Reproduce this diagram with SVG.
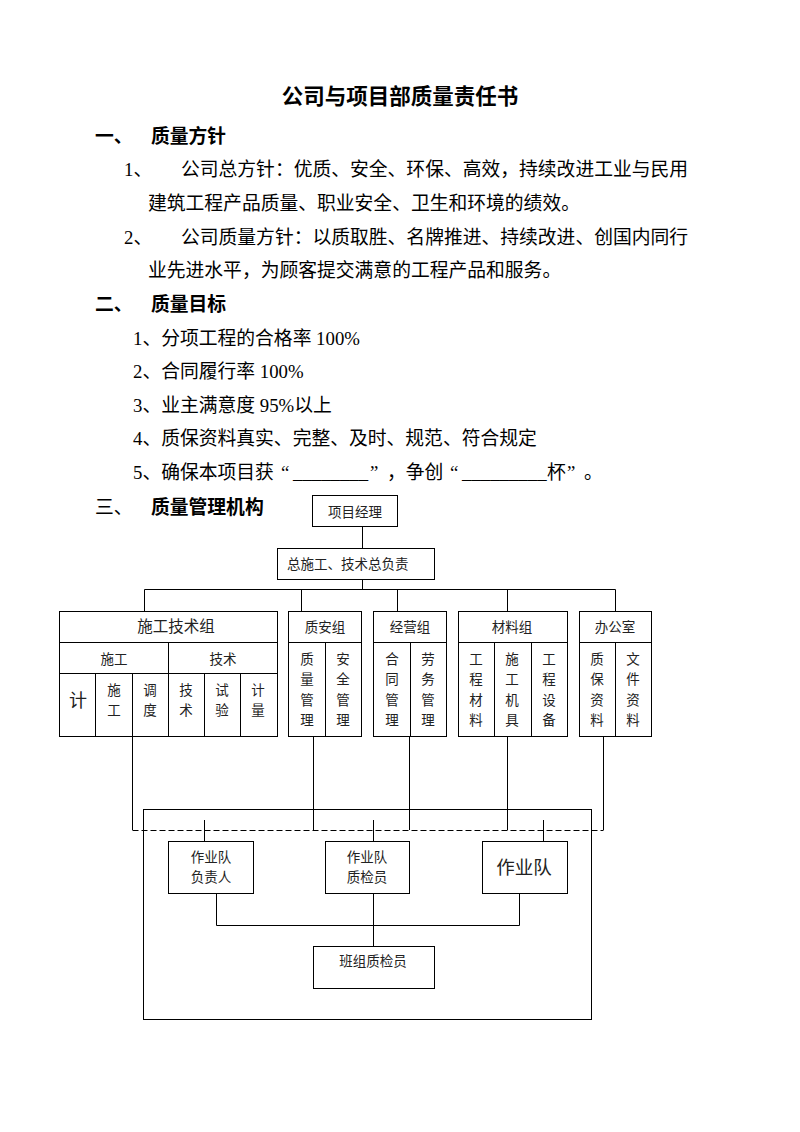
<svg xmlns="http://www.w3.org/2000/svg" width="800" height="1132" viewBox="0 0 800 1132">
<style>
.t{font-family:"Liberation Serif","Noto Sans CJK SC",serif;font-size:18.8px;fill:#000}
.h{font-family:"Noto Sans CJK SC",sans-serif;font-weight:bold;font-size:18.8px;fill:#000}
.n{font-family:"Liberation Serif","Noto Sans CJK SC",serif;font-size:18.8px;fill:#000}
.d{font-family:"Noto Sans CJK SC",sans-serif;font-size:13.5px;fill:#222;text-anchor:middle}
.bx{fill:#fff;stroke:#000;stroke-width:1}
.ln{fill:none;stroke:#000;stroke-width:1}
.ds{fill:none;stroke:#000;stroke-width:1;stroke-dasharray:6 3}
</style>
<rect width="800" height="1132" fill="#fff"/>

<g id="text">
<text x="400" y="104" text-anchor="middle" style="font-family:'Noto Sans CJK SC',sans-serif;font-weight:bold;font-size:21.5px">公司与项目部质量责任书</text>
<text class="h" x="95" y="143">一、<tspan x="151">质量方针</tspan></text>
<text class="t" x="124" y="176">1、<tspan x="181">公司总方针：优质、安全、环保、高效，持续改进工业与民用</tspan></text>
<text class="t" x="148" y="210">建筑工程产品质量、职业安全、卫生和环境的绩效。</text>
<text class="t" x="124" y="244">2、<tspan x="181">公司质量方针：以质取胜、名牌推进、持续改进、创国内同行</tspan></text>
<text class="t" x="148" y="277">业先进水平，为顾客提交满意的工程产品和服务。</text>
<text class="h" x="95" y="311">二、<tspan x="151">质量目标</tspan></text>
<text class="t" x="133" y="345">1、分项工程的合格率 100%</text>
<text class="t" x="133" y="378">2、合同履行率 100%</text>
<text class="t" x="133" y="412">3、业主满意度 95%以上</text>
<text class="t" x="133" y="445">4、质保资料真实、完整、及时、规范、符合规定</text>
<text class="t" x="133" y="479">5、确保本项目获<tspan x="281">“</tspan><tspan x="293">________</tspan><tspan x="370">”</tspan><tspan x="387">，争创</tspan><tspan x="450">“</tspan><tspan x="462">_________</tspan><tspan x="547">杯</tspan><tspan x="567">”</tspan><tspan x="584">。</tspan></text>
<text class="t" x="95" y="514">三、<tspan x="151" class="h">质量管理机构</tspan></text>
</g>

<g id="connectors">
<path class="ln" d="M362.5 526V548 M362.5 579V589.5 M144.5 589.5H615.5 M144.5 589.5V611 M301.5 589.5V611 M397.5 589.5V611 M507.5 589.5V611 M615.5 589.5V611"/>
<path class="ln" d="M132.5 736V830 M313.5 736V830 M409.5 736V830 M507.5 736V830 M603.5 736V830"/>
<path class="ds" d="M132.5 830.5H603.5"/>
<path class="ln" d="M204.5 820V841 M373.5 820V841 M543.5 820V841"/>
<path class="ln" d="M216.5 893V925.5H519.5V893 M373.5 893V946"/>
</g>

<g id="frame"><rect class="ln" x="143.5" y="809.5" width="448" height="210"/></g>

<g id="n-pm"><rect class="bx" x="312.5" y="495.5" width="85" height="31"/><text class="d" x="355" y="517">项目经理</text></g>
<g id="n-chief"><rect class="bx" x="277.5" y="548.5" width="157" height="31"/><text class="d" x="287" y="568.5" style="text-anchor:start">总施工、技术总负责</text></g>

<g id="n-tech">
<rect class="bx" x="59.5" y="611.5" width="218" height="125"/>
<path class="ln" d="M59.5 642.5H277.5 M59.5 673.5H277.5 M168.5 642.5V736.5 M95.5 673.5V736.5 M132.5 673.5V736.5 M204.5 673.5V736.5 M240.5 673.5V736.5"/>
<text class="d" x="176" y="632" style="font-size:15.5px">施工技术组</text>
<text class="d" x="114" y="663.5">施工</text>
<text class="d" x="223" y="663.5">技术</text>
<text class="d" x="78" y="707" style="font-size:18px">计</text>
<text class="d" x="114" y="695">施<tspan x="114" dy="20">工</tspan></text>
<text class="d" x="150" y="695">调<tspan x="150" dy="20">度</tspan></text>
<text class="d" x="186" y="695">技<tspan x="186" dy="20">术</tspan></text>
<text class="d" x="222" y="695">试<tspan x="222" dy="20">验</tspan></text>
<text class="d" x="258" y="695">计<tspan x="258" dy="20">量</tspan></text>
</g>

<g id="n-qs">
<rect class="bx" x="288.5" y="611.5" width="73" height="125"/>
<path class="ln" d="M288.5 642.5H361.5 M325.5 642.5V736.5"/>
<text class="d" x="325" y="632">质安组</text>
<text class="d" x="307" y="664">质<tspan x="307" dy="20.3">量</tspan><tspan x="307" dy="20.3">管</tspan><tspan x="307" dy="20.3">理</tspan></text>
<text class="d" x="343" y="664">安<tspan x="343" dy="20.3">全</tspan><tspan x="343" dy="20.3">管</tspan><tspan x="343" dy="20.3">理</tspan></text>
</g>

<g id="n-biz">
<rect class="bx" x="373.5" y="611.5" width="73" height="125"/>
<path class="ln" d="M373.5 642.5H446.5 M410.5 642.5V736.5"/>
<text class="d" x="410" y="632">经营组</text>
<text class="d" x="392" y="664">合<tspan x="392" dy="20.3">同</tspan><tspan x="392" dy="20.3">管</tspan><tspan x="392" dy="20.3">理</tspan></text>
<text class="d" x="428" y="664">劳<tspan x="428" dy="20.3">务</tspan><tspan x="428" dy="20.3">管</tspan><tspan x="428" dy="20.3">理</tspan></text>
</g>

<g id="n-mat">
<rect class="bx" x="458.5" y="611.5" width="109" height="125"/>
<path class="ln" d="M458.5 642.5H567.5 M494.5 642.5V736.5 M531.5 642.5V736.5"/>
<text class="d" x="512" y="632">材料组</text>
<text class="d" x="476" y="664">工<tspan x="476" dy="20.3">程</tspan><tspan x="476" dy="20.3">材</tspan><tspan x="476" dy="20.3">料</tspan></text>
<text class="d" x="512" y="664">施<tspan x="512" dy="20.3">工</tspan><tspan x="512" dy="20.3">机</tspan><tspan x="512" dy="20.3">具</tspan></text>
<text class="d" x="549" y="664">工<tspan x="549" dy="20.3">程</tspan><tspan x="549" dy="20.3">设</tspan><tspan x="549" dy="20.3">备</tspan></text>
</g>

<g id="n-office">
<rect class="bx" x="579.5" y="611.5" width="72" height="125"/>
<path class="ln" d="M579.5 642.5H651.5 M615.5 642.5V736.5"/>
<text class="d" x="615" y="632">办公室</text>
<text class="d" x="597" y="664">质<tspan x="597" dy="20.3">保</tspan><tspan x="597" dy="20.3">资</tspan><tspan x="597" dy="20.3">料</tspan></text>
<text class="d" x="633" y="664">文<tspan x="633" dy="20.3">件</tspan><tspan x="633" dy="20.3">资</tspan><tspan x="633" dy="20.3">料</tspan></text>
</g>

<g id="n-lead"><rect class="bx" x="168.5" y="841.5" width="85" height="52"/><text class="d" x="211" y="861.5">作业队<tspan x="211" dy="20.5">负责人</tspan></text></g>
<g id="n-insp"><rect class="bx" x="325.5" y="841.5" width="84" height="52"/><text class="d" x="367" y="861.5">作业队<tspan x="367" dy="20.5">质检员</tspan></text></g>
<g id="n-team"><rect class="bx" x="482.5" y="841.5" width="85" height="52"/><text class="d" x="524" y="873.5" style="font-size:18.5px">作业队</text></g>
<g id="n-group"><rect class="bx" x="313.5" y="946.5" width="121" height="42"/><text class="d" x="373" y="966">班组质检员</text></g>
</svg>
